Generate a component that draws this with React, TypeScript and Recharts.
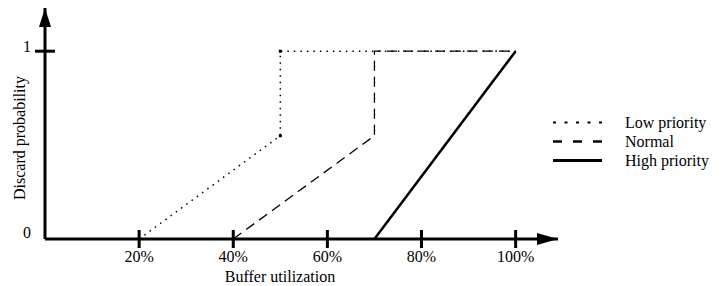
import { LineChart, Line, XAxis, YAxis, ReferenceDot } from 'recharts'

const xTicks = [20, 40, 60, 80, 100]
const yTicks = [0, 1]
const xMax = 109
const yMax = 1.23

const lowPriority = [
  { u: 20, p: 0 },
  { u: 50, p: 0.55 },
  { u: 50, p: 1 },
  { u: 100, p: 1 },
]
const normal = [
  { u: 40, p: 0 },
  { u: 70, p: 0.55 },
  { u: 70, p: 1 },
  { u: 100, p: 1 },
]
const highPriority = [
  { u: 70, p: 0 },
  { u: 100, p: 1 },
]

const seriesNames = ['Low priority', 'Normal', 'High priority']

const font = '"Liberation Serif"'

const legendStyles = [
  { dash: '3 8.5', width: 2 },
  { dash: '9 11', width: 2.5 },
  { dash: undefined, width: 3 },
]

function XTick(props: any) {
  const { x, y, payload } = props
  return (
    <g>
      <line x1={x} x2={x} y1={y - 9} y2={y + 9} stroke="#000" strokeWidth={3} />
      <text x={x} y={y + 23} textAnchor="middle" fontSize={16} style={{ fontFamily: font }} fill="#000">
        {payload.value}%
      </text>
    </g>
  )
}

function YTick(props: any) {
  const { x, y, payload } = props
  const isOne = payload.value === 1
  return (
    <g>
      {isOne && <line x1={x - 10} x2={x + 10} y1={y} y2={y} stroke="#000" strokeWidth={3} />}
      <text
        x={x - 14}
        y={isOne ? y + 1 : y - 1}
        textAnchor="end"
        fontSize={16}
        style={{ fontFamily: font }}
        fill="#000"
      >
        {payload.value}
      </text>
    </g>
  )
}

function LowDot(props: any) {
  const { cx, cy, index } = props
  if (index !== 1 && index !== 2) return <g key={index} />
  return <rect key={index} x={cx - 1.5} y={cy - 1.5} width={3} height={3} fill="#000" />
}

function ChartLegend() {
  return (
    <div style={{ position: 'absolute', left: 553, top: 113, fontFamily: font, fontSize: 16, color: '#000' }}>
      {seriesNames.map((name, i) => (
        <div key={name} style={{ display: 'flex', alignItems: 'center', height: 19 }}>
          <svg width={50} height={19} style={{ display: 'block' }}>
            <line
              x1={0}
              x2={49}
              y1={9.5}
              y2={9.5}
              stroke="#000"
              strokeWidth={legendStyles[i].width}
              strokeDasharray={legendStyles[i].dash}
            />
          </svg>
          <span style={{ marginLeft: 22, lineHeight: '19px', whiteSpace: 'nowrap' }}>{name}</span>
        </div>
      ))}
    </div>
  )
}

export default function App() {
  return (
    <div
      style={{
        position: 'absolute',
        left: 0,
        top: 0,
        width: 720,
        height: 286,
        background: '#fff',
        fontFamily: font,
      }}
    >
      <LineChart width={720} height={286} margin={{ top: 8, right: 162, bottom: 7, left: 10 }}>
        <XAxis
          type="number"
          dataKey="u"
          domain={[0, xMax]}
          ticks={xTicks}
          allowDataOverflow
          tickLine={false}
          tickSize={0}
          tickMargin={0}
          axisLine={{ stroke: '#000', strokeWidth: 3 }}
          tick={<XTick />}
          height={40}
          label={{
            content: (p: any) => (
              <text
                x={p.viewBox.x + 235}
                y={p.viewBox.y + 43}
                textAnchor="middle"
                fontSize={16}
                style={{ fontFamily: font }}
                fill="#000"
              >
                Buffer utilization
              </text>
            ),
          }}
        />
        <YAxis
          type="number"
          domain={[0, yMax]}
          ticks={yTicks}
          allowDataOverflow
          tickLine={false}
          tickSize={0}
          tickMargin={0}
          axisLine={{ stroke: '#000', strokeWidth: 3 }}
          tick={<YTick />}
          width={35}
          label={{
            content: (p: any) => {
              const cx = p.viewBox.x + 11
              const cy = 138
              return (
                <text
                  x={cx}
                  y={cy}
                  transform={`rotate(-90 ${cx} ${cy})`}
                  textAnchor="middle"
                  dominantBaseline="middle"
                  fontSize={16}
                  style={{ fontFamily: font }}
                  fill="#000"
                >
                  Discard probability
                </text>
              )
            },
          }}
        />
        <Line
          data={lowPriority}
          dataKey="p"
          name={seriesNames[0]}
          type="linear"
          stroke="#000"
          strokeWidth={1.5}
          strokeDasharray="1.5 5"
          dot={<LowDot />}
          activeDot={false}
          isAnimationActive={false}
        />
        <Line
          data={normal}
          dataKey="p"
          name={seriesNames[1]}
          type="linear"
          stroke="#000"
          strokeWidth={1.3}
          strokeDasharray="10 6"
          dot={false}
          activeDot={false}
          isAnimationActive={false}
        />
        <Line
          data={highPriority}
          dataKey="p"
          name={seriesNames[2]}
          type="linear"
          stroke="#000"
          strokeWidth={2.5}
          dot={false}
          activeDot={false}
          isAnimationActive={false}
        />
        <ReferenceDot
          x={xMax}
          y={0}
          ifOverflow="visible"
          shape={(p: any) => (
            <polygon points={`${p.cx},${p.cy} ${p.cx - 21},${p.cy - 6} ${p.cx - 21},${p.cy + 6}`} fill="#000" />
          )}
        />
        <ReferenceDot
          x={0}
          y={yMax}
          ifOverflow="visible"
          shape={(p: any) => (
            <polygon points={`${p.cx},${p.cy} ${p.cx - 6},${p.cy + 19} ${p.cx + 6},${p.cy + 19}`} fill="#000" />
          )}
        />
      </LineChart>
      <ChartLegend />
    </div>
  )
}
